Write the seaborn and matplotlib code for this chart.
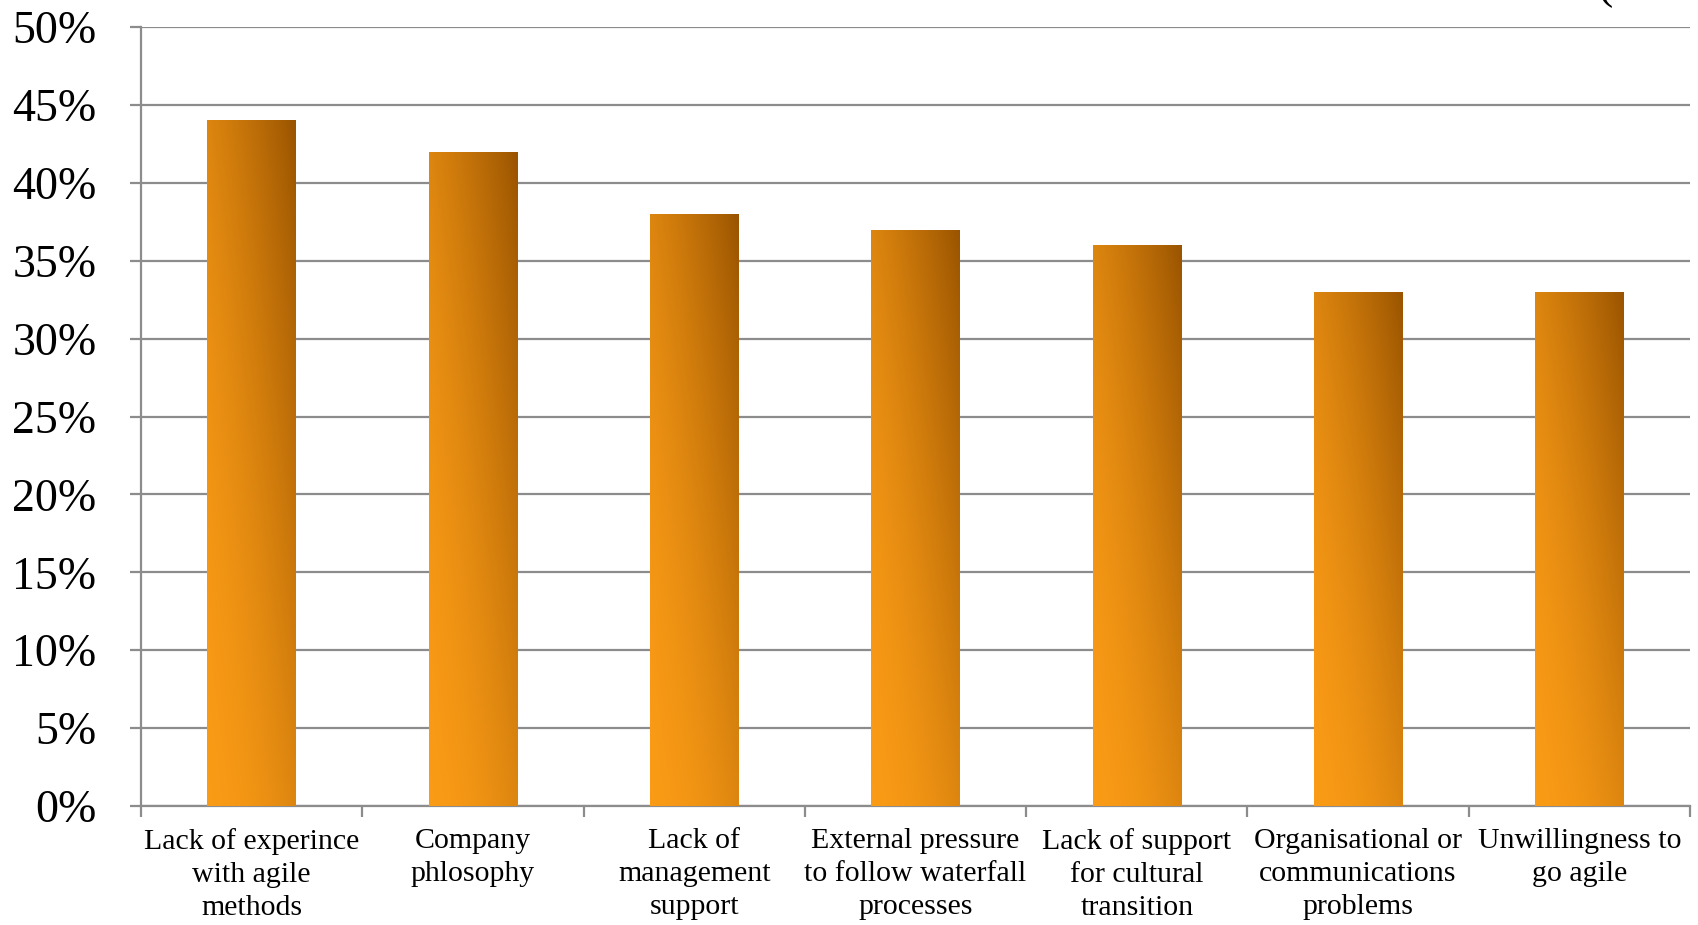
import numpy as np
import pandas as pd
import matplotlib
matplotlib.use("Agg")
import matplotlib.pyplot as plt
from matplotlib.colors import LinearSegmentedColormap
from matplotlib.ticker import FuncFormatter, FixedLocator
import seaborn as sns

# Survey results: barriers to adopting agile methods
categories = [
    "Lack of experince\nwith agile\nmethods",
    "Company\nphlosophy",
    "Lack of\nmanagement\nsupport",
    "External pressure\nto follow waterfall\nprocesses",
    "Lack of support\nfor cultural\ntransition",
    "Organisational or\ncommunications\nproblems",
    "Unwillingness to\ngo agile",
]
shares = [44, 42, 38, 37, 36, 33, 33]
y_ticks = [0, 5, 10, 15, 20, 25, 30, 35, 40, 45, 50]

sns.set_theme(style="white")
plt.rcParams["font.family"] = ["Liberation Serif", "DejaVu Serif"]

GRID = "#8c8c8c"
fig = plt.figure(figsize=(16.98, 9.25), dpi=100)
ax = fig.add_axes([0.083, 0.1286, 0.9123, 0.8422])

df = pd.DataFrame({"reason": categories, "share": shares})
sns.barplot(data=df, x="reason", y="share", color="#f0900f", width=0.40,
            ax=ax, zorder=3)

ax.set_xlim(-0.5, len(categories) - 0.5)
ax.set_ylim(0, 50)

# Diagonal orange-to-brown fill for every bar
cmap = LinearSegmentedColormap.from_list("amber", ["#fa9b16", "#9a5400"], N=256)
uu, vv = np.meshgrid(np.linspace(0, 1, 120), np.linspace(0, 1, 240))
shade = ((uu + vv) / 2.0) ** 1.7
for patch in ax.patches:
    x0, y0 = patch.get_x(), patch.get_y()
    w, h = patch.get_width(), patch.get_height()
    patch.set_facecolor("none")
    patch.set_edgecolor("none")
    img = ax.imshow(shade, cmap=cmap, vmin=0, vmax=1, origin="lower",
                    extent=[x0, x0 + w, y0, y0 + h], aspect="auto",
                    interpolation="bilinear", zorder=3)
    img.set_clip_path(patch)

ax.set_xlim(-0.5, len(categories) - 0.5)
ax.set_ylim(0, 50)

# Horizontal gridlines
ax.set_yticks(y_ticks)
ax.yaxis.set_major_formatter(FuncFormatter(lambda v, _: f"{v:.0f}%"))
ax.grid(axis="y", color=GRID, linewidth=1.6, zorder=0)
ax.grid(axis="x", visible=False)
ax.set_axisbelow(True)

for side in ["top", "right"]:
    ax.spines[side].set_visible(False)
for side in ["left", "bottom"]:
    ax.spines[side].set_color(GRID)
    ax.spines[side].set_linewidth(1.6)

ax.tick_params(axis="y", which="major", left=True, length=8, width=1.6,
               color=GRID, labelsize=33, pad=24, labelcolor="black")
ax.tick_params(axis="x", which="major", bottom=False, length=0,
               labelsize=21.5, pad=16, labelcolor="black")
ax.xaxis.set_minor_locator(FixedLocator(np.arange(-0.5, len(categories), 1.0)))
ax.tick_params(axis="x", which="minor", bottom=True, length=8, width=1.6,
               color=GRID)
for lbl in ax.get_xticklabels():
    lbl.set_linespacing(1.34)
    lbl.set_ha("center")

ax.set_xlabel("")
ax.set_ylabel("")

fig.text(0.941, 1.0 - 8 / 925, "(", fontsize=33, va="bottom", ha="left",
         color="black")

fig.savefig("out.png", dpi=100, facecolor="white")
